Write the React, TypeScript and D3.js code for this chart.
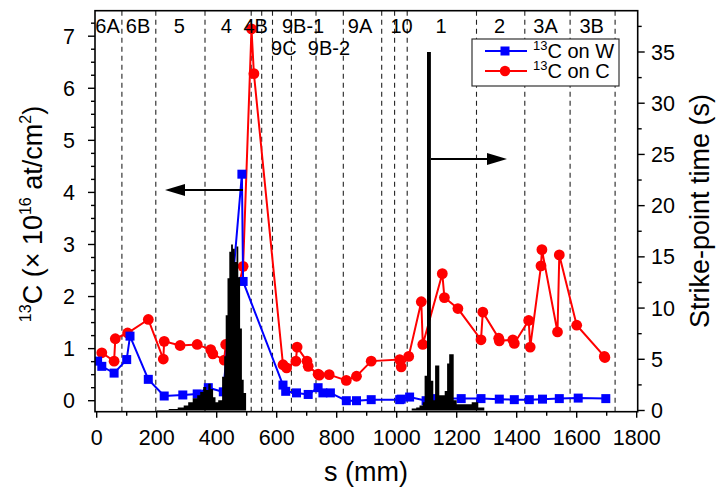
import { useEffect, useRef } from "react";
import * as d3 from "d3";

// 13C on W (blue squares)
const wS = [3, 17, 58, 100, 111, 172, 225, 287, 335, 372, 422, 484, 488, 621, 630, 666, 705, 738, 754, 779, 832, 866, 915, 1010, 1015, 1043, 1098, 1126, 1215, 1281, 1342, 1392, 1442, 1486, 1542, 1605, 1697];
const wV = [0.76, 0.66, 0.53, 0.79, 1.24, 0.41, 0.09, 0.11, 0.13, 0.25, 0.17, 4.35, 2.29, 0.3, 0.18, 0.15, 0.12, 0.25, 0.15, 0.15, 0.0, 0.0, 0.02, 0.02, 0.03, 0.07, 0.0, 0.04, 0.04, 0.04, 0.03, 0.02, 0.02, 0.03, 0.04, 0.05, 0.04];

// 13C on C (red circles)
const cS = [17, 58, 62, 103, 172, 222, 225, 278, 335, 380, 387, 425, 430, 488, 516, 524, 621, 633, 664, 668, 701, 705, 738, 742, 775, 832, 866, 915, 1010, 1015, 1040, 1082, 1087, 1152, 1159, 1204, 1281, 1287, 1340, 1342, 1387, 1392, 1440, 1445, 1481, 1484, 1536, 1542, 1600, 1692, 1694];
const cV = [0.92, 0.76, 1.19, 1.3, 1.56, 0.8, 1.14, 1.06, 1.08, 0.98, 0.9, 0.78, 1.08, 2.58, 7.14, 6.28, 0.69, 0.63, 0.76, 1.03, 0.76, 0.66, 0.51, 0.49, 0.5, 0.39, 0.47, 0.76, 0.79, 0.65, 0.85, 1.9, 1.08, 2.44, 1.98, 1.77, 1.17, 1.7, 1.2, 1.15, 1.17, 1.1, 1.54, 1.03, 2.59, 2.9, 1.32, 2.8, 1.45, 0.85, 0.83];

// strike-point time histogram (s), step from each s to the next
const tS = [200, 240, 270, 290, 305, 320, 335, 345, 355, 365, 372, 380, 388, 396, 405, 418, 425, 430, 436, 442, 448, 454, 460, 466, 472, 478, 484, 490, 498, 1050, 1065, 1076, 1087, 1093, 1101, 1114, 1122, 1128, 1142, 1160, 1168, 1175, 1190, 1200, 1250, 1272, 1292];
const tV = [0.05, 0.15, 0.3, 0.5, 0.8, 1.2, 1.5, 1.8, 2.3, 2.0, 2.6, 2.1, 1.3, 0.8, 1.0, 3.3, 5.3, 9.3, 12.9, 15.5, 16.2, 15.8, 14.5, 16.0, 13.0, 8.0, 3.0, 1.7, 0, 0.2, 0.3, 0.5, 0.8, 3.4, 35, 2.9, 1.0, 4.4, 1.5, 1.9, 4.6, 5.5, 1.0, 0.6, 0.8, 0.3, 0];

// tile boundaries and names
const bounds = [84, 197, 361, 515, 550, 586, 649, 731, 822, 950, 993, 1035, 1266, 1427, 1578, 1728];
const regionNames = ["6A", "6B", "5", "4", "4B", "9C", "9B-1", "9B-2", "9A", "10", "1", "2", "3A", "3B"];
const regionS = [36, 138, 275, 432, 530, 624, 688, 774, 878, 1016, 1148, 1343, 1496, 1650];
const regionRow = [0, 0, 0, 0, 0, 1, 0, 1, 0, 0, 0, 0, 0, 0];

const xTicks = d3.range(0, 1801, 200);
const yTicks = d3.range(0, 8, 1);
const rTicks = d3.range(0, 36, 5);

const FONT = "'Liberation Sans', Arial, sans-serif";

function App() {
	const ref = useRef(null);

	useEffect(() => {
		const svg = d3.select(ref.current);
		svg.selectAll("*").remove();

		const left = 95, right = 637.7, top = 10.7, bottom = 411.7;
		const x = d3.scaleLinear().domain([0, 1800]).range([96.7, 636.7]);
		const y = d3.scaleLinear().domain([0, 7]).range([400.7, 36.2]);
		const yR = d3.scaleLinear().domain([0, 35]).range([410.5, 52]);

		svg.append("rect").attr("width", 726).attr("height", 497).attr("fill", "#fff");

		svg.append("defs").append("clipPath").attr("id", "plotclip")
			.append("rect").attr("x", left).attr("y", top)
			.attr("width", right - left).attr("height", bottom - top);

		const plot = svg.append("g").attr("clip-path", "url(#plotclip)");

		// dashed tile boundaries
		plot.selectAll("line.bnd").data(bounds).enter().append("line")
			.attr("x1", (d) => x(d)).attr("x2", (d) => x(d))
			.attr("y1", top).attr("y2", bottom)
			.attr("stroke", "#222").attr("stroke-width", 1.1)
			.attr("stroke-dasharray", "5,4");

		// red series
		const cPts = cS.map((s, i) => [s, cV[i]]);
		plot.append("path").datum(cPts)
			.attr("d", d3.line().x((d) => x(d[0])).y((d) => y(d[1])))
			.attr("fill", "none").attr("stroke", "#ff0000").attr("stroke-width", 2);
		plot.selectAll("circle.c").data(cPts).enter().append("circle")
			.attr("cx", (d) => x(d[0])).attr("cy", (d) => y(d[1]))
			.attr("r", 5.4).attr("fill", "#ff0000");

		// blue series
		const wPts = wS.map((s, i) => [s, wV[i]]);
		plot.append("path").datum(wPts)
			.attr("d", d3.line().x((d) => x(d[0])).y((d) => y(d[1])))
			.attr("fill", "none").attr("stroke", "#0000ff").attr("stroke-width", 2);
		plot.selectAll("rect.w").data(wPts).enter().append("rect")
			.attr("x", (d) => x(d[0]) - 4.5).attr("y", (d) => y(d[1]) - 4.5)
			.attr("width", 9).attr("height", 9).attr("fill", "#0000ff");

		// strike-point time histogram
		const tPts = tS.map((s, i) => [s, tV[i]]);
		plot.append("path").datum(tPts)
			.attr("d", d3.area().curve(d3.curveStepAfter)
				.x((d) => x(d[0])).y0(yR(0)).y1((d) => yR(d[1])))
			.attr("fill", "#000");

		// frame
		svg.append("rect").attr("x", left).attr("y", top)
			.attr("width", right - left).attr("height", bottom - top)
			.attr("fill", "none").attr("stroke", "#000").attr("stroke-width", 1.6);

		// bottom axis
		const ax = svg.append("g").attr("font-family", FONT).attr("font-size", 21.5);
		d3.range(0, 1801, 100).forEach((v) => {
			const major = v % 200 === 0;
			ax.append("line").attr("x1", x(v)).attr("x2", x(v))
				.attr("y1", bottom).attr("y2", bottom + (major ? 6 : 4))
				.attr("stroke", "#000").attr("stroke-width", 1.4);
		});
		ax.selectAll("text.xt").data(xTicks).enter().append("text")
			.attr("x", (d) => x(d)).attr("y", 445).attr("text-anchor", "middle")
			.text((d) => d);

		// left axis
		d3.range(0, 7.26, 0.25).forEach((v) => {
			const major = Math.abs(v - Math.round(v)) < 1e-6;
			ax.append("line").attr("x1", left - (major ? 7 : 4)).attr("x2", left)
				.attr("y1", y(v)).attr("y2", y(v))
				.attr("stroke", "#000").attr("stroke-width", 1.4);
		});
		ax.selectAll("text.yt").data(yTicks).enter().append("text")
			.attr("x", 75).attr("y", (d) => y(d) + 7.5).attr("text-anchor", "end")
			.text((d) => d);

		// right axis
		d3.range(0, 38.8, 2.5).forEach((v) => {
			const major = v % 5 === 0;
			ax.append("line").attr("x1", right).attr("x2", right + (major ? 7 : 4))
				.attr("y1", yR(v)).attr("y2", yR(v))
				.attr("stroke", "#000").attr("stroke-width", 1.4);
		});
		ax.selectAll("text.rt").data(rTicks).enter().append("text")
			.attr("x", 651).attr("y", (d) => yR(d) + 7.5).attr("text-anchor", "start")
			.text((d) => d);

		// axis titles
		svg.append("text").attr("x", 366).attr("y", 481)
			.attr("text-anchor", "middle").attr("font-family", FONT).attr("font-size", 27)
			.text("s (mm)");

		svg.append("text").attr("transform", "translate(709,211) rotate(-90)")
			.attr("text-anchor", "middle").attr("font-family", FONT).attr("font-size", 27)
			.text("Strike-point time (s)");

		const lt = svg.append("text").attr("transform", "translate(42,214) rotate(-90)")
			.attr("text-anchor", "middle").attr("font-family", FONT).attr("font-size", 27);
		lt.append("tspan").attr("font-size", 16).attr("dy", -11).text("13");
		lt.append("tspan").attr("dy", 11).text("C (\u00d7 10");
		lt.append("tspan").attr("font-size", 16).attr("dy", -11).text("16");
		lt.append("tspan").attr("dy", 11).text(" at/cm");
		lt.append("tspan").attr("font-size", 16).attr("dy", -11).text("2");
		lt.append("tspan").attr("dy", 11).text(")");

		// region labels
		svg.selectAll("text.reg").data(regionNames).enter().append("text")
			.attr("x", (d, i) => x(regionS[i]))
			.attr("y", (d, i) => (regionRow[i] ? 55 : 33))
			.attr("text-anchor", "middle").attr("font-family", FONT).attr("font-size", 20)
			.text((d) => d);

		// arrows
		const arrow = (x1, x2, yy) => {
			const dir = x2 > x1 ? 1 : -1;
			svg.append("line").attr("x1", x1).attr("x2", x2 - dir * 16)
				.attr("y1", yy).attr("y2", yy).attr("stroke", "#000").attr("stroke-width", 1.8);
			svg.append("path")
				.attr("d", `M${x2},${yy} L${x2 - dir * 20},${yy - 6} L${x2 - dir * 20},${yy + 6} Z`)
				.attr("fill", "#000");
		};
		arrow(243, 165, 190);
		arrow(431, 507, 159);

		// legend
		const lg = svg.append("g").attr("font-family", FONT);
		lg.append("rect").attr("x", 472).attr("y", 39).attr("width", 147).attr("height", 47)
			.attr("fill", "#fff").attr("stroke", "#333").attr("stroke-width", 1.2);
		const items = [
			{ label: "C on W", color: "#0000ff", shape: "square", yy: 51 },
			{ label: "C on C", color: "#ff0000", shape: "circle", yy: 71 },
		];
		items.forEach((it) => {
			lg.append("line").attr("x1", 485).attr("x2", 527).attr("y1", it.yy).attr("y2", it.yy)
				.attr("stroke", it.color).attr("stroke-width", 2);
			if (it.shape === "square") {
				lg.append("rect").attr("x", 500.5).attr("y", it.yy - 4.5).attr("width", 9).attr("height", 9)
					.attr("fill", it.color);
			} else {
				lg.append("circle").attr("cx", 505).attr("cy", it.yy).attr("r", 5.2).attr("fill", it.color);
			}
			const t = lg.append("text").attr("x", 533).attr("y", it.yy + 7).attr("font-size", 20);
			t.append("tspan").attr("font-size", 13).attr("dy", -8).text("13");
			t.append("tspan").attr("dy", 8).text(it.label);
		});
	}, []);

	return (
		<div style={{ position: "absolute", left: 0, top: 0 }}>
			<svg ref={ref} width={726} height={497} style={{ display: "block" }} />
		</div>
	);
}

export default App;
